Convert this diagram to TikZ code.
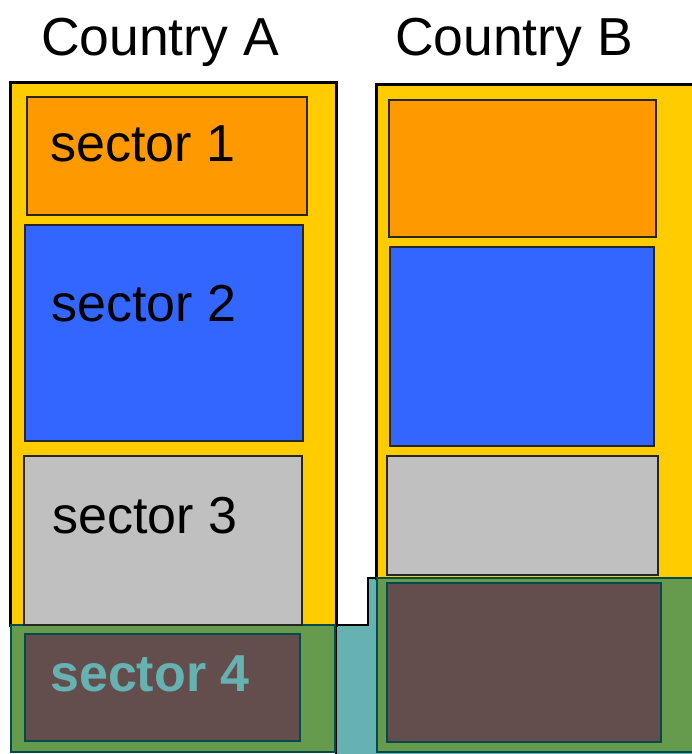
\documentclass[tikz,border=0pt]{standalone}
\usepackage{fontspec}
\setmainfont{Liberation Sans}
\definecolor{cyel}{HTML}{FFCC00}
\definecolor{corange}{HTML}{FF9900}
\definecolor{cblue}{HTML}{3366FF}
\definecolor{cgray}{HTML}{C0C0C0}
\definecolor{cgreen}{HTML}{669A4C}
\definecolor{cteal}{HTML}{66B2B2}
\definecolor{cbrown}{HTML}{634D4D}
\definecolor{cdark}{HTML}{004C4C}
\tikzset{
  country/.style={fill=cyel, draw=black, line width=3pt},
  region/.style={fill=cgreen, draw=cdark, line width=2.5pt},
  sectorbox/.style={draw=black!85, line width=1.2pt},
  brownbox/.style={fill=cbrown, draw=cdark, line width=2pt},
  bigtext/.style={font=\fontsize{53.5}{64}\selectfont, inner sep=0pt},
  sectext/.style={font=\fontsize{52}{62}\selectfont, inner sep=0pt, anchor=base west},
}
\begin{document}
\begin{tikzpicture}[x=1pt,y=-1pt]
\useasboundingbox (0,0) rectangle (692,754);
% teal base
\path[fill=cteal, draw=black, line width=1.5pt] (336,625) -- (368,625) -- (368,578) -- (700,578) -- (700,760) -- (336,760) -- cycle;
% country A
\path[country] (10,83) rectangle (336,625);
\path[region] (11,625) rectangle (335,752);
% country B
\path[country] (376,85) rectangle (700,578);
\path[region] (377,578) rectangle (700,752);
% sectors A
\path[sectorbox, fill=corange] (27,97) rectangle (307,215);
\path[sectorbox, fill=cblue] (25,225) rectangle (303,441);
\path[sectorbox, fill=cgray] (24,456) rectangle (302,625);
\path[brownbox] (25,634) rectangle (300,741);
% sectors B
\path[sectorbox, fill=corange] (389,100) rectangle (656,237);
\path[sectorbox, fill=cblue] (390,247) rectangle (654,446);
\path[sectorbox, fill=cgray] (387,456) rectangle (658,575);
\path[brownbox] (387,583) rectangle (661,742);
% texts
\node[bigtext, anchor=base] (ta) at (160,56) {Country A};
\node[bigtext, anchor=base] (tb) at (514,56) {Country B};
\node[sectext] (s1) at (50,162) {sector 1};
\node[sectext] (s2) at (51,321) {sector 2};
\node[sectext] (s3) at (52,533) {sector 3};
\node[sectext, font=\fontsize{52}{62}\selectfont\bfseries, text=cteal] (s4) at (50,691) {sector 4};
\end{tikzpicture}
\end{document}
